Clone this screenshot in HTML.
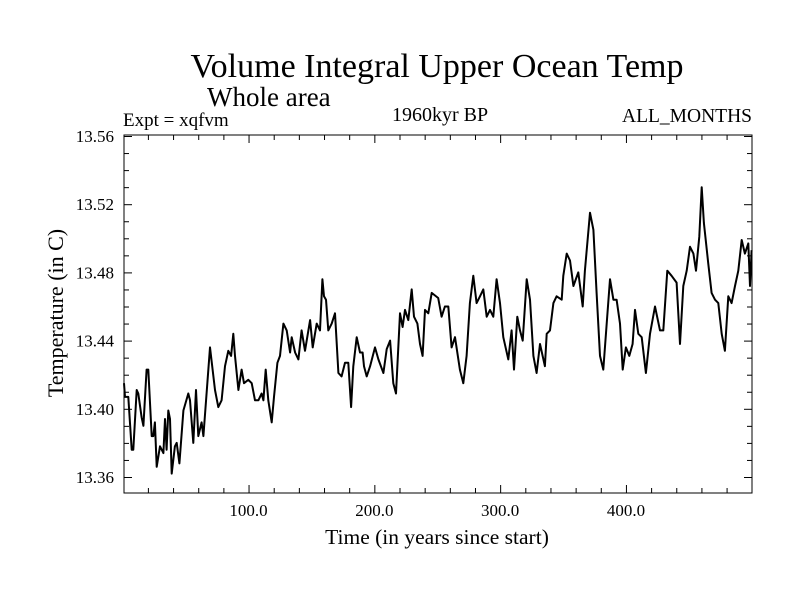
<!DOCTYPE html>
<html><head><meta charset="utf-8"><style>
html,body{margin:0;padding:0;background:#fff;}
svg{display:block;font-family:"Liberation Serif",serif;}
</style></head><body>
<svg id="chart" width="800" height="600" viewBox="0 0 800 600">
<text x="437" y="77" font-size="34" text-anchor="middle">Volume Integral Upper Ocean Temp</text>
<text x="207" y="106" font-size="27">Whole area</text>
<text x="123" y="126" font-size="19">Expt = xqfvm</text>
<text x="440" y="121" font-size="20" text-anchor="middle">1960kyr BP</text>
<text x="752" y="122" font-size="19.5" text-anchor="end">ALL_MONTHS</text>
<text x="437" y="544" font-size="21.5" text-anchor="middle">Time (in years since start)</text>
<text x="0" y="0" font-size="22" text-anchor="middle" transform="translate(63,313) rotate(-90)">Temperature (in C)</text>
<rect x="124" y="135" width="628" height="358" fill="none" stroke="#000" stroke-width="1"/>
<g id="axes"></g>
<path id="series" fill="none" stroke="#000" stroke-width="2" stroke-linejoin="round"/>
</svg>
<script>
const years = [1,1.8,4.4,7.1,8.4,11.1,12.4,15,16.4,19,20.3,23,24.3,25.6,27,29.6,32.3,33.6,34.9,36.2,37.6,38.9,41.5,42.9,45,48.2,52.1,53.5,56.1,58.2,60.1,62.7,64.1,69.4,73.3,76,78.6,81.3,83.9,86.1,87.9,89.2,91.9,94.5,96.4,99.8,102.5,105.1,107.8,110.4,111.8,113.6,115.7,118.4,120.2,122.9,125,127.7,130.3,133,134.3,137,139.6,142.2,144.9,148.9,151,154.2,156.8,158.7,160,161.6,163.4,166.1,168.7,171.4,174,176.7,179.3,181.5,183.3,186,188.6,190.7,191.8,193.9,196.6,200.5,203.2,207.2,209.8,212.5,215.1,217.2,220.4,222.5,224.4,227,229.7,231.5,234.2,236.3,238.4,240.3,242.9,245.6,250.8,253.5,256.1,258.8,261.4,264.1,268,270.7,273.3,276,278.7,281.3,284,286.6,289.3,291.9,294.6,297.2,299.9,302.5,306.5,309.1,311,313.6,315.8,317.9,321.1,323.7,326.4,329,331.7,335.6,337,339.6,342.3,344.9,348.9,350.2,352.9,355.5,358.2,362.1,365.6,367.4,371.4,374.1,376.7,379.4,382,384.7,387.3,390,392.6,395.3,397.4,400,402.7,405.3,407.2,409.8,412.5,415.9,419.1,423.1,427.1,429.7,432.9,436.3,440.3,443,445.6,448.3,450.9,453.6,455.7,458.3,460.2,462,465.5,468.1,470.8,473.4,476.1,478.7,481.4,484,486.7,489.3,492,494.6,497.3,498.6,499.9];
const temps = [13.415,13.407,13.407,13.376,13.376,13.411,13.409,13.395,13.390,13.423,13.423,13.384,13.384,13.392,13.366,13.378,13.374,13.394,13.376,13.399,13.394,13.362,13.378,13.380,13.368,13.399,13.409,13.405,13.380,13.411,13.384,13.392,13.384,13.436,13.411,13.401,13.405,13.425,13.434,13.431,13.444,13.431,13.411,13.423,13.415,13.417,13.415,13.405,13.405,13.409,13.405,13.423,13.405,13.392,13.407,13.427,13.431,13.450,13.446,13.433,13.442,13.433,13.429,13.446,13.434,13.452,13.436,13.450,13.446,13.476,13.466,13.464,13.446,13.450,13.456,13.421,13.419,13.427,13.427,13.401,13.425,13.442,13.433,13.433,13.425,13.419,13.425,13.436,13.429,13.421,13.435,13.440,13.415,13.409,13.456,13.448,13.458,13.452,13.470,13.454,13.450,13.438,13.431,13.458,13.456,13.468,13.465,13.454,13.460,13.460,13.436,13.442,13.423,13.415,13.431,13.462,13.478,13.462,13.466,13.470,13.454,13.458,13.454,13.476,13.462,13.442,13.429,13.446,13.423,13.454,13.446,13.440,13.476,13.464,13.431,13.421,13.438,13.425,13.444,13.446,13.462,13.466,13.464,13.478,13.491,13.487,13.472,13.480,13.460,13.481,13.515,13.505,13.468,13.431,13.423,13.450,13.476,13.464,13.464,13.450,13.423,13.436,13.431,13.438,13.458,13.444,13.442,13.421,13.444,13.460,13.446,13.446,13.481,13.478,13.474,13.438,13.472,13.481,13.495,13.491,13.481,13.501,13.530,13.509,13.485,13.468,13.464,13.462,13.444,13.434,13.466,13.462,13.472,13.481,13.499,13.491,13.497,13.472,13.493];
const xTickVals = [100,200,300,400];
const xTickLabels = ["100.0","200.0","300.0","400.0"];
const yTickVals = [13.36,13.40,13.44,13.48,13.52,13.56];
const yTickLabels = ["13.36","13.40","13.44","13.48","13.52","13.56"];

const L=124,R=752,T=135,B=493;
function sx(t){return L+(t-1)*1.258;}
function sy(v){return 136+(13.56-v)*(341/0.2);}
const NS='http://www.w3.org/2000/svg';
const g=document.getElementById('axes');
function line(x1,y1,x2,y2,name){
  const l=document.createElementNS(NS,'line');
  l.setAttribute('x1',x1);l.setAttribute('y1',y1);l.setAttribute('x2',x2);l.setAttribute('y2',y2);
  l.setAttribute('stroke','#000');l.setAttribute('stroke-width','1');
  
  
  g.appendChild(l);
}
function text(x,y,s,anchor,name,size){
  const t=document.createElementNS(NS,'text');
  t.setAttribute('x',x);t.setAttribute('y',y);t.setAttribute('font-size',size);t.setAttribute('text-anchor',anchor);
  t.textContent=s;
  
  
  g.appendChild(t);
}
for(let v=20;v<500;v+=20){
  const x=sx(v)+0.5;const maj=v%100===0;const len=maj?8:5;
  line(x,B,x,B-len,'x-tick');
  line(x,T,x,T+len,'x-tick-top');
}
xTickVals.forEach((v,i)=>text(sx(v),516,xTickLabels[i],'middle','x-tick-label','17'));
for(let k=0;k<=20;k++){
  const v=13.36+k*0.01;const y=sy(v)+0.5;const maj=k%4===0;const len=maj?8:5;
  line(L,y,L+len,y,'y-tick');
  line(R,y,R-len,y,'y-tick-right');
}
yTickVals.forEach((v,i)=>text(114,sy(v)+6,yTickLabels[i],'end','y-tick-label','17'));
let d='';
years.forEach((t,i)=>{d+=(i?'L':'M')+sx(t).toFixed(1)+','+sy(temps[i]).toFixed(1);});
document.getElementById('series').setAttribute('d',d);
</script>
</body></html>
